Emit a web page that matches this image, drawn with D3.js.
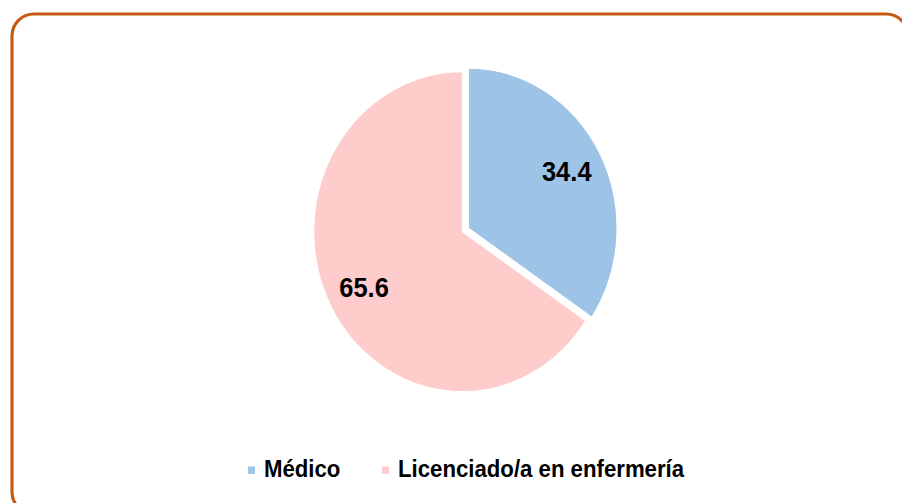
<!DOCTYPE html>
<html>
<head>
  <meta charset="utf-8">
  <title>Pie</title>
  <script type="text/javascript" src="https://d3js.org/d3.v7.min.js"></script>
  <style>
    body { margin: 0; background: #fff; }
    text { font-family: "Liberation Sans", Arial, sans-serif; font-weight: bold; fill: #000; }
  </style>
</head>
<body>
  <div id="container"></div>
  <script type="text/javascript">
    var categories = ['Médico', 'Licenciado/a en enfermería'];
    var values = [34.4, 65.6];
    var colours = ['#9dc3e6', '#ffcccc'];
    var exploded = [7, 0];

    var width = 902, height = 503;
    var cx = 462.3, cy = 231.7, radius = 148.5, stretch = 1.077;

    var svg = d3.select('#container').append('svg')
      .attr('width', width).attr('height', height);

    // rounded frame
    svg.append('rect')
      .attr('x', 12).attr('y', 14)
      .attr('width', 896).attr('height', 500)
      .attr('rx', 22).attr('ry', 22)
      .attr('fill', 'none').attr('stroke', '#c55a11').attr('stroke-width', 3.2);

    var pie = d3.pie().sort(null).value(d => d)(values);
    var arc = d3.arc().innerRadius(0).outerRadius(radius);
    var labelArc = d3.arc().innerRadius(radius * 0.75).outerRadius(radius * 0.75);

    var gp = svg.append('g')
      .attr('transform', `translate(${cx},${cy}) scale(1,${stretch})`);

    function shift(d, i) {
      var a = (d.startAngle + d.endAngle) / 2;
      return [Math.sin(a) * exploded[i], -Math.cos(a) * exploded[i]];
    }

    var slices = gp.selectAll('g.slice').data(pie).enter().append('g')
      .attr('class', 'slice')
      .attr('transform', (d, i) => `translate(${shift(d, i)})`);

    slices.append('path')
      .attr('d', arc)
      .attr('fill', (d, i) => colours[i])
      .attr('stroke', '#fff').attr('stroke-width', 1);

    slices.append('text')
      .attr('transform', d => `translate(${labelArc.centroid(d)})`)
      .attr('text-anchor', 'middle')
      .attr('dominant-baseline', 'central')
      .style('font-size', '25.5px')
      .text(d => d.value.toFixed(1));

    // legend
    var legend = svg.append('g').attr('transform', 'translate(0,477) scale(1,1.05)');
    var lx = [248, 382];
    var items = legend.selectAll('g').data(categories).enter().append('g')
      .attr('transform', (d, i) => `translate(${lx[i]},0)`);
    items.append('rect')
      .attr('x', 0).attr('y', -10).attr('width', 7).attr('height', 7)
      .attr('fill', (d, i) => colours[i]);
    items.append('text')
      .attr('x', 16).attr('y', 0)
      .style('font-size', '22.2px')
      .text(d => d);
  </script>
</body>
</html>
